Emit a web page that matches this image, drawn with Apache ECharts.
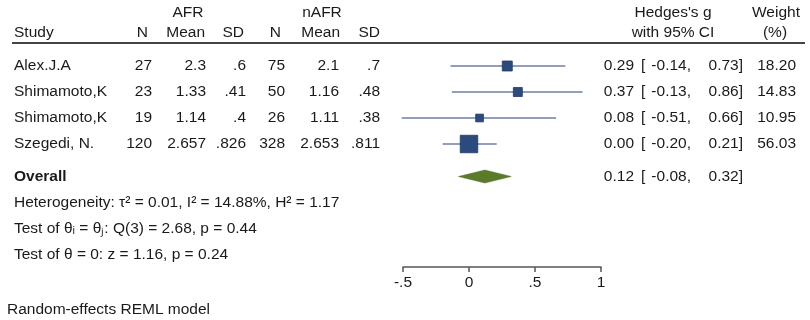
<!DOCTYPE html>
<html>
<head>
<meta charset="utf-8">
<script src="https://cdn.jsdelivr.net/npm/echarts@6/dist/echarts.min.js"></script>
<style>
  html, body { margin: 0; padding: 0; background: #fff; }
  #main { width: 810px; height: 320px; }
</style>
</head>
<body>
<div id="main"></div>
<script>
// forest plot data
var studies = ['Alex.J.A', 'Shimamoto,K', 'Shimamoto,K', 'Szegedi, N.'];
var afrN = ['27', '23', '19', '120'];
var afrMean = ['2.3', '1.33', '1.14', '2.657'];
var afrSD = ['.6', '.41', '.4', '.826'];
var nafrN = ['75', '50', '26', '328'];
var nafrMean = ['2.1', '1.16', '1.11', '2.653'];
var nafrSD = ['.7', '.48', '.38', '.811'];
var effect = [0.29, 0.37, 0.08, 0.00];
var ciLow = [-0.14, -0.13, -0.51, -0.20];
var ciHigh = [0.73, 0.86, 0.66, 0.21];
var weight = [18.20, 14.83, 10.95, 56.03];
var overall = [0.12, -0.08, 0.32];
var statLines = [
  'Heterogeneity: \u03c4\u00b2 = 0.01, I\u00b2 = 14.88%, H\u00b2 = 1.17',
  'Test of \u03b8\u1d62 = \u03b8\u2c7c: Q(3) = 2.68, p = 0.44',
  'Test of \u03b8 = 0: z = 1.16, p = 0.24'
];
var xTicks = [-0.5, 0, 0.5, 1];

var FONT = '"Liberation Sans", Arial, Helvetica, sans-serif';
var FS = 15.5;
var TXT = '#1a1a1a';
var rows = studies.map(function (s, i) { return i; });
var overallRow = 4.25;

function fmt(v) { return v.toFixed(2); }

function txt(x, y, s, align, bold) {
  return {
    type: 'text',
    style: {
      x: x, y: y, text: s, fill: TXT,
      font: (bold ? 'bold ' : '') + FS + 'px ' + FONT,
      textAlign: align || 'left', textVerticalAlign: 'middle'
    }
  };
}

var myChart = echarts.init(document.getElementById('main'));

var option = {
  animation: false,
  backgroundColor: '#fff',
  grid: { left: 403, right: 209, top: 53, bottom: 53 },
  xAxis: {
    type: 'value',
    position: 'bottom',
    min: xTicks[0], max: xTicks[xTicks.length - 1], interval: 0.5,
    splitLine: { show: false },
    axisLine: { show: true, onZero: false, lineStyle: { color: '#555', width: 1.5 } },
    axisTick: { show: true, length: 5, lineStyle: { color: '#555', width: 1.5 } },
    axisLabel: {
      color: TXT, fontSize: FS, fontFamily: FONT, margin: 8,
      formatter: function (v) {
        if (v === 0) return '0';
        return String(v).replace('0.', '.');
      }
    }
  },
  yAxis: {
    type: 'value', inverse: true, min: -0.5, max: 7.73,
    show: false
  },
  graphic: [
    { type: 'line', shape: { x1: 12, y1: 43, x2: 805, y2: 43 }, style: { stroke: '#444', lineWidth: 2 } },
    txt(188, 13, 'AFR', 'center'),
    txt(322, 13, 'nAFR', 'center'),
    txt(673, 13, "Hedges's g", 'center'),
    txt(776, 13, 'Weight', 'center'),
    txt(14, 33, 'Study', 'left'),
    txt(148, 33, 'N', 'right'),
    txt(205, 33, 'Mean', 'right'),
    txt(244, 33, 'SD', 'right'),
    txt(281, 33, 'N', 'right'),
    txt(340, 33, 'Mean', 'right'),
    txt(380, 33, 'SD', 'right'),
    txt(673, 33, 'with 95% CI', 'center'),
    txt(775, 33, '(%)', 'center'),
    txt(7, 310, 'Random-effects REML model', 'left')
  ],
  series: [
    {
      // study table text
      type: 'custom',
      data: rows,
      renderItem: function (params, api) {
        var i = params.dataIndex;
        var y = api.coord([0, api.value(0)])[1];
        return {
          type: 'group',
          children: [
            txt(14, y, studies[i], 'left'),
            txt(152, y, afrN[i], 'right'),
            txt(206, y, afrMean[i], 'right'),
            txt(246, y, afrSD[i], 'right'),
            txt(285, y, nafrN[i], 'right'),
            txt(339, y, nafrMean[i], 'right'),
            txt(380, y, nafrSD[i], 'right'),
            txt(634, y, fmt(effect[i]), 'right'),
            txt(641, y, '[', 'left'),
            txt(691, y, fmt(ciLow[i]) + ',', 'right'),
            txt(743, y, fmt(ciHigh[i]) + ']', 'right'),
            txt(796, y, fmt(weight[i]), 'right')
          ]
        };
      },
      z: 5
    },
    {
      // overall + stats text
      type: 'custom',
      data: [overallRow],
      renderItem: function (params, api) {
        var y = api.coord([0, api.value(0)])[1];
        var kids = [
          txt(14, y, 'Overall', 'left', true),
          txt(634, y, fmt(overall[0]), 'right'),
          txt(641, y, '[', 'left'),
          txt(691, y, fmt(overall[1]) + ',', 'right'),
          txt(743, y, fmt(overall[2]) + ']', 'right')
        ];
        statLines.forEach(function (s, k) {
          var yy = api.coord([0, overallRow + 1 + k])[1];
          kids.push(txt(14, yy, s, 'left'));
        });
        return { type: 'group', children: kids };
      }
    },
    {
      // CI lines and weighted squares
      type: 'custom',
      data: rows.map(function (r, i) { return [effect[i], r, ciLow[i], ciHigh[i], weight[i]]; }),
      renderItem: function (params, api) {
        var c = api.coord([api.value(0), api.value(1)]);
        var lo = api.coord([api.value(2), api.value(1)]);
        var hi = api.coord([api.value(3), api.value(1)]);
        var side = 17.5 * Math.sqrt(api.value(4) / 56.03);
        return {
          type: 'group',
          children: [
            { type: 'line', shape: { x1: lo[0], y1: c[1], x2: hi[0], y2: c[1] },
              style: { stroke: '#6d7fa6', lineWidth: 1.6 } },
            { type: 'rect', shape: { x: c[0] - side / 2, y: c[1] - side / 2, width: side, height: side },
              style: { fill: '#2b4a7e', stroke: '#1f3a68', lineWidth: 0.8 } }
          ]
        };
      },
      z: 3
    },
    {
      // overall diamond
      type: 'custom',
      data: [[overall[0], overallRow, overall[1], overall[2]]],
      renderItem: function (params, api) {
        var c = api.coord([api.value(0), api.value(1)]);
        var lo = api.coord([api.value(2), api.value(1)]);
        var hi = api.coord([api.value(3), api.value(1)]);
        var h = 6.5;
        return {
          type: 'polygon',
          shape: { points: [[lo[0], c[1]], [c[0], c[1] - h], [hi[0], c[1]], [c[0], c[1] + h]] },
          style: { fill: '#5b7b2b', stroke: '#55742a', lineWidth: 0.5 }
        };
      },
      z: 3
    }
  ]
};

myChart.setOption(option);
</script>
</body>
</html>
